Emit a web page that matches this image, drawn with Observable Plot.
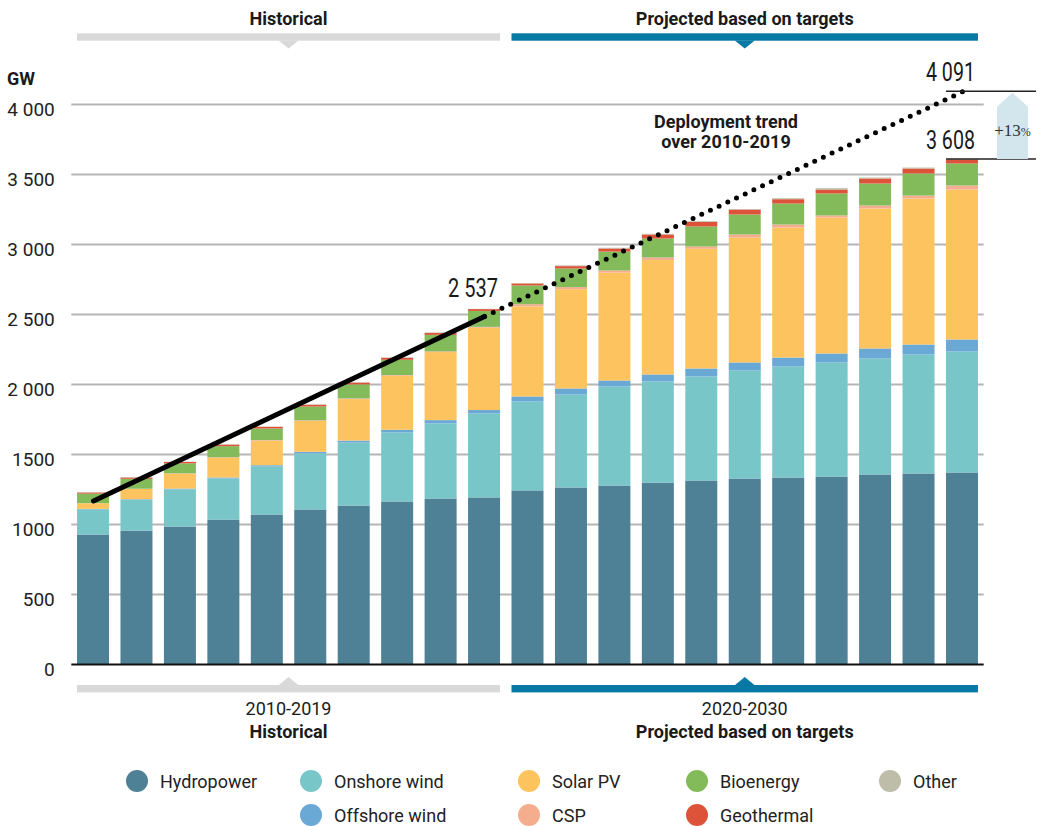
<!DOCTYPE html>
<html>
<head>
<meta charset="utf-8">
<script src="https://cdn.jsdelivr.net/npm/d3@7"></script>
<script src="https://cdn.jsdelivr.net/npm/@observablehq/plot@0.6"></script>
<style>
  html, body { margin: 0; padding: 0; background: #fff; }
  #chart svg { display: block; }
</style>
</head>
<body>
<div id="chart"></div>
<script>
// ---------- DATA ----------
const years = [2010, 2011, 2012, 2013, 2014, 2015, 2016, 2017, 2018, 2019, 2020,
               2021, 2022, 2023, 2024, 2025, 2026, 2027, 2028, 2029, 2030];
const categories = ["Hydropower", "Onshore wind", "Offshore wind", "Solar PV", "CSP", "Bioenergy", "Geothermal", "Other"];
const colors = ["#4e8096", "#79c6c9", "#6aa8d5", "#fcc35f", "#f4ae8e", "#83bb5b", "#dc533a", "#bebdaa"];

const hydropower   = [925, 953, 982, 1032, 1068, 1104, 1132, 1161, 1182, 1190, 1240, 1261, 1275, 1296, 1311, 1325, 1332, 1339, 1354, 1361, 1368];
const onshoreWind  = [180, 220, 266, 293, 344, 400, 450, 493, 536, 599, 635, 664, 707, 722, 743, 771, 793, 815, 828, 850, 864];
const offshoreWind = [3, 4, 5, 7, 8, 12, 14, 19, 24, 25, 36, 43, 43, 50, 57, 58, 64, 64, 72, 71, 86];
const solarPV      = [40, 73, 106, 141, 175, 220, 296, 386, 486, 588, 643, 709, 771, 818, 855, 892, 929, 971, 1000, 1043, 1071];
const csp          = [1, 2, 3, 4, 4, 5, 5, 5, 5, 6, 16, 15, 15, 18, 16, 22, 21, 15, 21, 21, 29];
const bioenergy    = [68, 71, 71, 79, 83, 98, 100, 109, 118, 114, 134, 133, 135, 135, 143, 143, 150, 157, 157, 158, 157];
const geothermal   = [8, 9, 10, 11, 12, 13, 13, 14, 14, 13, 14, 17, 22, 29, 33, 35, 31, 28, 36, 35, 29];
const other        = [2, 2, 2, 2, 2, 2, 3, 3, 3, 2, 2, 5, 5, 5, 5, 3, 7, 10, 7, 7, 4];
const seriesValues = [hydropower, onshoreWind, offshoreWind, solarPV, csp, bioenergy, geothermal, other];

// Deployment trend over 2010-2019 (solid) and its extrapolation (dotted)
const trendYears  = [2010, 2019, 2030];
const trendValues = [1168, 2486, 4091];

const yTicks      = [0, 500, 1000, 1500, 2000, 2500, 3000, 3500, 4000];
const yTickLabels = ["0", "500", "1000", "1500", "2 000", "2 500", "3 000", "3 500", "4 000"];

const periods = [
  {label: "Historical", sub: "2010-2019", from: 2010, to: 2019, color: "#d9d9d9"},
  {label: "Projected based on targets", sub: "2020-2030", from: 2020, to: 2030, color: "#0779a4"}
];
const totalLabel = {year: 2019, value: 2537, text: "2 537"};
const targetLabel = {year: 2030, value: 3608, text: "3 608"};
const trendEndLabel = {year: 2030, value: 4091, text: "4 091"};
const gapLabel = "+13";
const trendNote = ["Deployment trend", "over 2010-2019"];

// ---------- TABLES ----------
const table = years.flatMap((year, i) =>
  categories.map((type, j) => ({year, type, value: seriesValues[j][i]})));
const trend = trendYears.map((year, i) => ({year, value: trendValues[i]}));
const trendSolid = trend.slice(0, 2);
const trendDotted = trend.slice(1, 3);

// ---------- PLOT ----------
const W = 1042, H = 826;
const ML = 71.3, MR = 58.3, MT = 104, MB = 162;
const PI = 0.2635, PO = 0.1318;
const FONT = "Roboto, 'Open Sans', sans-serif";

const chart = Plot.plot({
  width: W, height: H,
  marginLeft: ML, marginRight: MR, marginTop: MT, marginBottom: MB,
  style: {fontFamily: FONT, background: "#fff", overflow: "visible"},
  x: {type: "band", domain: years, paddingInner: PI, paddingOuter: PO, round: false, axis: null},
  y: {domain: [0, 4000], axis: null},
  color: {domain: categories, range: colors},
  marks: [
    Plot.ruleY(yTicks.filter(d => d > 0), {stroke: "#b5b5b5", strokeWidth: 2}),
    Plot.barY(table, {x: "year", y: "value", fill: "type"}),
    Plot.ruleY([0], {stroke: "#111", strokeWidth: 2}),
    Plot.text(yTicks, {y: d => d, text: (d, i) => yTickLabels[i], frameAnchor: "left",
      textAnchor: "end", dx: -17, dy: 5, fontSize: 19, fill: "#222"}),
    Plot.line(trendSolid, {x: "year", y: "value", stroke: "#000", strokeWidth: 5, strokeLinecap: "round"}),
    Plot.line(trendDotted, {x: "year", y: "value", stroke: "#000", strokeWidth: 5,
      strokeLinecap: "round", strokeDasharray: "0 9.6"})
  ]
});
document.getElementById("chart").appendChild(chart);

// ---------- ANNOTATIONS (positioned through the plot's scales) ----------
const sxObj = chart.scale("x");
const syObj = chart.scale("y");
const xBand = d3.scaleBand(years, [ML, W - MR]).paddingInner(PI).paddingOuter(PO).align(0.5);
const X = v => (sxObj && sxObj.apply) ? sxObj.apply(v) : xBand(v);
const BW = (sxObj && sxObj.bandwidth) ? sxObj.bandwidth : xBand.bandwidth();
const Y = v => (syObj && syObj.apply) ? syObj.apply(v) : d3.scaleLinear([0, 4000], [H - MB, MT])(v);

const svg = d3.select(chart);
const g = svg.append("g").attr("font-family", FONT).attr("fill", "#1a1a1a").attr("text-anchor", "start");

// period brackets (top and bottom)
const yBase = Y(0);
periods.forEach(p => {
  const x1 = X(p.from), x2 = X(p.to) + BW, cx = (x1 + x2) / 2;
  // top
  g.append("text").attr("x", cx).attr("y", 25).attr("text-anchor", "middle")
    .attr("font-size", 18).attr("font-weight", 700).text(p.label);
  g.append("rect").attr("x", x1).attr("y", 33.3).attr("width", x2 - x1).attr("height", 7.4).attr("fill", p.color);
  g.append("path").attr("d", `M${cx - 10},40.6L${cx + 10},40.6L${cx},48.5Z`).attr("fill", p.color);
  // bottom
  const by = yBase + 21;
  g.append("rect").attr("x", x1).attr("y", by).attr("width", x2 - x1).attr("height", 7.4).attr("fill", p.color);
  g.append("path").attr("d", `M${cx - 10},${by + 0.2}L${cx + 10},${by + 0.2}L${cx},${by - 8}Z`).attr("fill", p.color);
  g.append("text").attr("x", cx).attr("y", yBase + 51).attr("text-anchor", "middle")
    .attr("font-size", 18).text(p.sub);
  g.append("text").attr("x", cx).attr("y", yBase + 74).attr("text-anchor", "middle")
    .attr("font-size", 18).attr("font-weight", 700).text(p.label);
});

// unit label
g.append("text").attr("x", 7).attr("y", 85).attr("font-size", 18).attr("font-weight", 700).text("GW");

// trend note
trendNote.forEach((t, i) => {
  g.append("text").attr("x", 726).attr("y", 128 + i * 20).attr("text-anchor", "middle")
    .attr("font-size", 18).attr("font-weight", 700).text(t);
});

// value labels (condensed figures)
function condensed(sel, w) {
  return sel.attr("font-size", 25).attr("textLength", w).attr("lengthAdjust", "spacingAndGlyphs");
}
condensed(g.append("text").attr("x", X(totalLabel.year) + BW - 2).attr("y", Y(totalLabel.value) - 12)
  .attr("text-anchor", "end").text(totalLabel.text), 50);

[trendEndLabel, targetLabel].forEach(l => {
  const x0 = X(l.year);
  condensed(g.append("text").attr("x", x0 + BW - 3).attr("y", Y(l.value) - 10)
    .attr("text-anchor", "end").text(l.text), 49);
  g.append("line").attr("x1", x0).attr("x2", x0 + BW + 58).attr("y1", Y(l.value)).attr("y2", Y(l.value))
    .attr("stroke", "#222").attr("stroke-width", 1.5);
});

// +13% arrow
{
  const ax1 = X(2030) + BW + 19, ax2 = ax1 + 31, acx = (ax1 + ax2) / 2;
  const yb = Y(targetLabel.value), yt = Y(trendEndLabel.value) + 1.5;
  g.append("path")
    .attr("d", `M${ax1},${yb}L${ax1},${yt + 14}L${acx},${yt}L${ax2},${yt + 14}L${ax2},${yb}Z`)
    .attr("fill", "#d3e5ed");
  const t = g.append("text").attr("x", acx).attr("y", (yb + yt) / 2 + 10).attr("text-anchor", "middle")
    .attr("font-family", "'Liberation Serif', 'DejaVu Serif', serif").attr("font-size", 17).attr("fill", "#333");
  t.append("tspan").text(gapLabel);
  t.append("tspan").attr("font-size", 12).text("%");
}

// legend
const legendPos = {
  "Hydropower": [137, 781], "Onshore wind": [311, 781], "Solar PV": [529, 781], "Bioenergy": [697, 781], "Other": [890, 781],
  "Offshore wind": [311, 815], "CSP": [529, 815], "Geothermal": [697, 815]
};
categories.forEach((c, i) => {
  const [cx, cy] = legendPos[c];
  g.append("circle").attr("cx", cx).attr("cy", cy).attr("r", 11).attr("fill", colors[i]);
  g.append("text").attr("x", cx + 23).attr("y", cy + 6.5).attr("text-anchor", "start")
    .attr("font-size", 18).attr("fill", "#222").text(c);
});
</script>
</body>
</html>
